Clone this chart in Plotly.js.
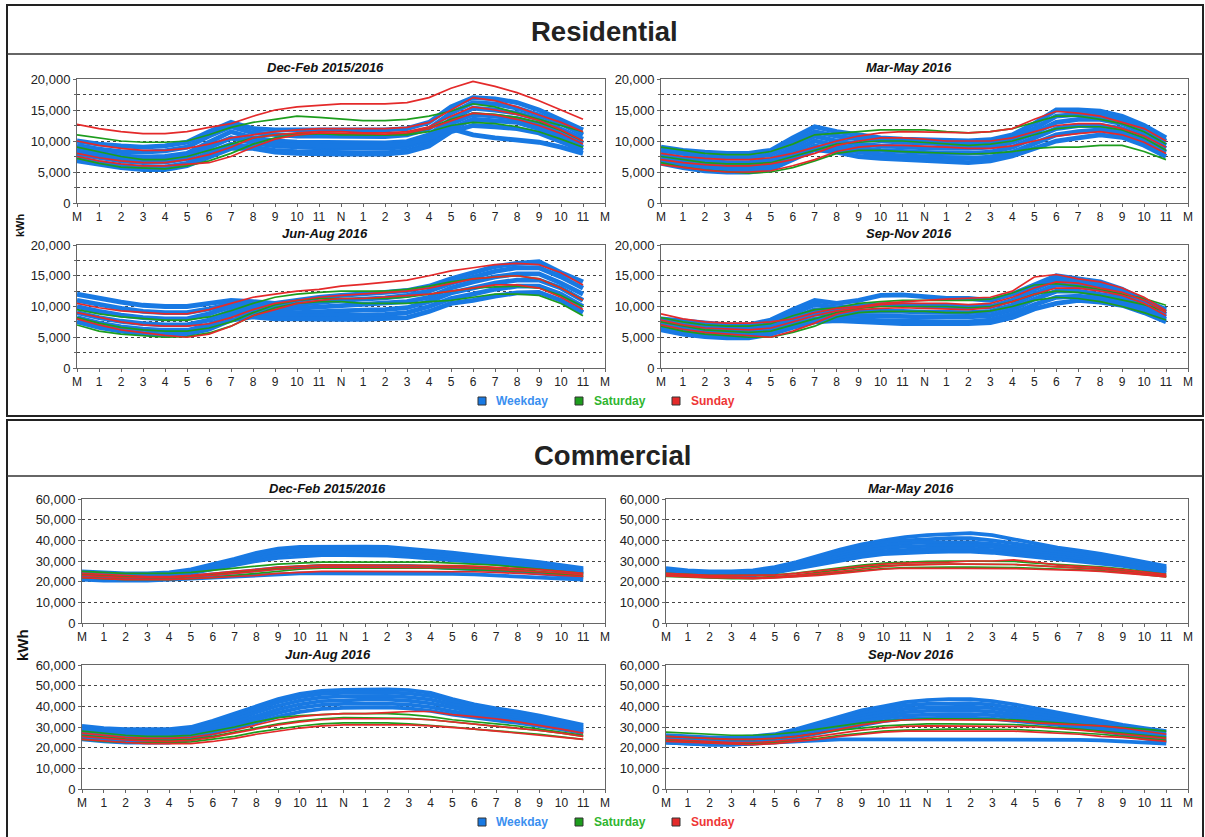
<!DOCTYPE html>
<html>
<head>
<meta charset="utf-8">
<script src="https://cdn.plot.ly/plotly-3.0.1.min.js"></script>
<style>html,body{margin:0;padding:0;background:#fff;}#chart{width:1205px;height:837px;}</style>
</head>
<body>
<div id="chart"></div>
<script>
// ---------- categories / ticks ----------
const hours = [0,1,2,3,4,5,6,7,8,9,10,11,12,13,14,15,16,17,18,19,20,21,22,23];
const tickPositions = [0,1,2,3,4,5,6,7,8,9,10,11,12,13,14,15,16,17,18,19,20,21,22,23,24];
const hourLabels = ['M','1','2','3','4','5','6','7','8','9','10','11','N','1','2','3','4','5','6','7','8','9','10','11','M'];
const seasonTitles = ['Dec-Feb 2015/2016','Mar-May 2016','Jun-Aug 2016','Sep-Nov 2016'];
const groupNames = ['Weekday','Saturday','Sunday'];

// ---------- Residential, Dec-Feb ----------
const resDecFebWeekday = [
 [10000,9500,9200,9000,9200,9800,11500,13000,12000,11800,11800,11800,11800,11800,11800,12000,13000,15500,17000,16800,16200,15000,13500,11800],
 [9300,8700,8300,8200,8400,9000,10800,12300,11300,11000,10800,10800,10800,10700,10700,11000,12000,14500,16200,16000,15300,14200,12800,11000],
 [8600,8000,7600,7400,7500,8000,9800,11500,10500,10000,9800,9800,9800,9700,9700,9900,11000,13500,15300,15000,14500,13500,12000,10300],
 [7900,7300,6800,6500,6600,7200,9000,10500,9700,9200,9000,8900,8900,8800,8800,9100,10200,12800,14300,14000,13600,12700,11200,9600],
 [7200,6500,6000,5700,5800,6400,8200,9500,9000,8500,8300,8200,8200,8100,8100,8400,9500,12000,13500,13300,13000,12000,10500,9000],
 [6800,6200,5700,5400,5400,6000,7500,8800,8800,8200,8000,7900,7900,7900,7900,8200,9200,11500,12500,12300,12000,11300,10000,8500],
 [8500,7800,7300,7000,7000,7500,9000,10500,10000,9500,9300,9200,9200,9200,9200,9500,10500,12000,11000,10500,10200,9800,9000,8000]
];
const resDecFebSaturday = [
 [11000,10500,10000,9800,9800,10000,11000,12200,13000,13500,14000,13800,13500,13300,13300,13500,14000,14800,16000,15500,14500,13500,12500,11500],
 [9000,8200,7500,7000,7000,7500,8500,9500,10500,11000,11200,11200,11000,11000,11000,11200,12000,13500,14500,14300,13800,13000,11700,10000],
 [7200,6400,5800,5600,5500,6000,6800,8000,9500,10500,11000,11200,11200,11000,11000,11000,11500,12500,13000,12800,12300,11500,10300,9000]
];
const resDecFebSunday = [
 [12700,12000,11500,11200,11200,11500,12200,12800,14000,15000,15500,15800,16000,16000,16000,16200,17000,18500,19600,18800,17800,16500,15000,13500],
 [10000,9300,8800,8500,8500,8800,9500,10500,11000,11500,11800,12000,12000,12000,12000,12200,13000,15000,17000,16500,15500,14200,13000,11500],
 [8000,7300,6800,6500,6500,7000,7800,9000,10500,11000,11300,11500,11500,11300,11300,11500,12300,14000,15500,15000,14300,13300,11800,10000],
 [7500,6800,6300,6000,6000,6300,6500,7500,9000,10300,11000,11300,11300,11200,11100,11300,12000,13300,14500,14200,13500,12500,11200,9500]
];

// ---------- Residential, Mar-May ----------
const resMarMayWeekday = [
 [9000,8500,8200,8000,8000,8500,10500,12300,11500,11000,10500,10300,10200,10000,10000,10200,11000,12800,15000,15000,14800,14000,12500,10500],
 [8500,8000,7500,7300,7300,7800,9800,11500,10800,10300,10000,9800,9700,9500,9500,9700,10500,12000,14000,14300,14200,13500,12000,10000],
 [7800,7200,6800,6500,6500,7000,9000,10800,10000,9500,9200,9000,8900,8800,8800,9000,9800,11300,13000,13500,13500,12800,11300,9300],
 [7200,6600,6200,5900,5900,6300,8300,10000,9300,8800,8500,8300,8200,8000,8000,8200,9000,10500,12000,12500,12500,12000,10600,8800],
 [6800,6100,5600,5300,5300,5700,7600,9200,8700,8200,7800,7600,7500,7300,7200,7400,8200,9600,11000,11500,11800,11300,10000,8200],
 [6400,5700,5200,5000,5000,5400,7000,8600,8200,7500,7200,7000,6900,6700,6500,6800,7600,8800,10000,10500,11000,10600,9300,7500]
];
const resMarMaySaturday = [
 [9000,8500,8000,7800,7800,8300,9500,11000,11200,11500,11800,11800,11800,11500,11300,11500,12000,13000,14000,14000,13500,12800,11500,9500],
 [7500,7000,6500,6300,6300,6500,7500,8500,9500,9800,10000,10000,9800,9500,9300,9500,10000,11000,12000,12300,12300,11800,10500,8500],
 [6500,5800,5300,5000,4800,5000,5700,6800,8000,8500,8500,8300,8200,8000,7900,8000,8300,8800,9000,9000,9300,9300,8300,7000]
];
const resMarMaySunday = [
 [8000,7500,7200,7000,7000,7300,8000,9000,10000,10800,11300,11500,11500,11400,11300,11500,12000,13500,14800,14500,14000,13000,12000,10000],
 [7000,6500,6200,6000,6000,6300,7000,8000,9300,10000,10500,10500,10300,10000,10000,10000,10500,11500,12500,12800,12800,12000,10800,9000],
 [6200,5700,5300,5000,5000,5200,6000,7000,8300,9000,9300,9300,9200,9000,8800,8800,9200,10000,10800,11200,11500,11000,9800,8000]
];

// ---------- Residential, Jun-Aug ----------
const resJunAugWeekday = [
 [12000,11300,10700,10200,10000,10000,10500,11000,10800,10500,11000,11500,11800,12000,12300,12600,13300,14500,15500,16500,17000,17300,15500,14000],
 [11000,10300,9700,9200,9000,9000,9600,10500,10300,10000,10300,10700,11000,11200,11400,11800,12500,13800,14800,15700,16300,16300,14800,13000],
 [10000,9200,8600,8200,8000,8000,8800,10000,9800,9500,9700,9900,10200,10300,10500,10800,11500,13000,14000,14800,15300,15300,13800,12000],
 [9000,8200,7600,7200,7000,7000,7800,9300,9300,9000,9000,9200,9300,9400,9500,9800,10800,12200,13000,13800,14300,14300,13000,11000],
 [8200,7300,6700,6300,6100,6100,7000,8600,8800,8500,8500,8500,8600,8600,8700,9000,10000,11300,12000,12800,13300,13300,12000,10000],
 [7500,6600,6000,5600,5400,5500,6300,7800,8300,8000,8000,7900,7900,7900,8000,8200,9200,10500,11000,11700,12200,12300,11000,9000]
];
const resJunAugSaturday = [
 [9500,8800,8300,8000,7800,7800,8300,9300,10500,11500,12000,12300,12500,12500,12500,12800,13300,14000,14500,14800,15000,14500,13000,11000],
 [8200,7300,6600,6200,6000,6000,6500,7500,9000,10300,11000,11300,11300,11300,11300,11500,12000,12500,13000,13200,13300,13000,11800,10000],
 [7000,6000,5500,5200,5000,5100,5700,6800,8500,9800,10500,10800,10800,10500,10500,10500,10800,11000,11500,12000,12000,11800,10500,8500]
];
const resJunAugSunday = [
 [10500,9800,9300,9000,8800,8800,9500,10500,11500,12000,12500,12800,13300,13600,14000,14300,15000,15800,16300,16800,17000,16800,15500,13500],
 [9000,8200,7500,7000,6800,6800,7200,8200,9500,10500,11000,11500,11800,12000,12200,12500,13000,13800,14500,14800,15000,14500,13000,11000],
 [8000,7000,6200,5700,5300,5000,5500,6800,8500,9500,10500,11000,11300,11300,11500,11800,12000,12500,13000,13500,13500,13000,11500,9500]
];

// ---------- Residential, Sep-Nov ----------
const resSepNovWeekday = [
 [8000,7700,7300,7000,7000,7800,9500,11000,10500,11000,11800,11900,11600,11300,11300,11000,12000,13500,15000,14500,14000,12800,11000,9500],
 [7600,7200,6800,6500,6500,7200,8800,10300,9800,10000,10300,10300,10100,10000,10000,10000,11000,12800,14300,14000,13500,12500,10700,9100],
 [7200,6700,6300,6000,6000,6700,8200,9500,9200,9200,9300,9200,9100,9000,9000,9200,10200,12000,13500,13300,12800,12000,10300,8700],
 [6800,6200,5800,5500,5500,6200,7600,8800,8600,8500,8500,8400,8300,8300,8300,8500,9500,11200,12500,12500,12000,11400,9900,8300],
 [6400,5800,5400,5100,5100,5800,7000,8000,8000,7800,7700,7600,7500,7500,7500,7800,8800,10300,11500,11700,11300,10800,9400,7900],
 [6200,5500,5100,4900,4900,5500,6600,7500,7700,7500,7300,7200,7200,7200,7200,7400,8200,9600,10500,11000,10700,10200,9000,7500]
];
const resSepNovSaturday = [
 [8200,7500,7000,6800,6800,7200,8500,9500,9800,10500,10800,11000,11000,11000,11000,11200,12200,13500,13700,13300,12800,12000,11300,10200],
 [7500,6800,6200,6000,5800,6000,7000,8000,9000,9700,10000,10000,10000,10000,9800,10000,10800,12000,12500,12300,11800,11000,10300,9200],
 [6800,6000,5500,5200,5000,5000,5800,6800,8300,9000,9200,9200,9200,9000,9000,9300,10000,11000,11500,11300,10800,10000,9000,7800]
];
const resSepNovSunday = [
 [8800,8000,7500,7300,7300,7500,8000,9000,9700,10000,10500,10800,11000,11200,11300,11500,12500,14800,15200,14500,14000,13000,11500,9300],
 [7800,7000,6500,6300,6200,6500,7500,8500,9300,9800,10300,10500,10500,10500,10300,10500,11500,13000,14000,13800,13000,12300,11000,9000],
 [7000,6300,5800,5500,5300,5000,6000,7300,8800,9500,9700,9800,9700,9600,9500,9800,10800,12000,13000,13000,12500,11800,10500,8500]
];

// ---------- Commercial, Dec-Feb ----------
const comDecFebWeekday = [
 [25000,24500,24000,24000,24500,26000,28500,31000,34000,36000,36800,37000,37000,37000,36800,36000,35000,34000,32800,31500,30500,29500,28000,26500],
 [24500,24000,23500,23500,24000,25500,28000,30500,33000,35000,35800,36000,36000,36000,35800,35000,34000,33000,32000,30800,29800,28800,27300,25800],
 [24000,23500,23000,23000,23500,25000,27300,29800,32000,34000,34800,35000,35000,35000,34800,34000,33200,32200,31200,30000,29000,28000,26600,25000],
 [23500,23000,22500,22500,23000,24500,26500,29000,31000,33000,33800,34000,34000,34000,33800,33200,32400,31400,30400,29300,28300,27300,25900,24300],
 [23000,22500,22000,22000,22500,24000,26000,28000,30000,31500,32300,32800,32800,32800,32600,32000,31300,30500,29600,28600,27600,26600,25200,23600],
 [22000,21500,21000,21000,21500,22500,23500,24500,25500,26500,27000,27500,27500,27500,27500,27500,27000,26500,26000,25500,25000,24000,23000,22000],
 [21000,20500,20500,20500,21000,21500,22000,22500,23000,23500,24000,24000,24000,24000,24000,24000,24000,23800,23500,23000,22500,22000,21500,21000]
];
const comDecFebSaturday = [
 [25000,24500,24000,24000,24000,24500,25500,26500,27500,28500,29000,29500,29500,29500,29500,29500,29500,29000,28500,28000,27000,26000,25000,24000],
 [23500,23000,22500,22000,22000,22500,23500,24500,25500,26500,27500,28000,28000,28000,28000,28000,27800,27500,27000,26500,26000,25000,24000,23000],
 [22000,21500,21000,21000,21000,21500,22000,23000,24000,25000,26000,26500,26500,26500,26500,26500,26500,26000,25800,25500,25000,24500,23500,22500]
];
const comDecFebSunday = [
 [24000,23500,23000,22500,22500,23000,24000,25000,26000,27000,27500,28000,28000,28000,28000,28000,28000,27800,27500,27000,26500,25800,25000,24000],
 [23000,22500,22000,22000,22000,22500,23000,24000,25000,26000,26500,27000,27000,27000,27000,27000,27000,26800,26500,26000,25500,25000,24200,23300],
 [22000,21500,21000,21000,21000,21500,22000,22500,23000,24000,24500,25000,25000,25000,25000,25000,25000,25000,24800,24500,24000,23500,23000,22500]
];

// ---------- Commercial, Mar-May ----------
const comMarMayWeekday = [
 [26500,25500,25000,25000,25500,27000,29500,32500,35500,38000,40000,41500,42500,43000,43500,42500,40500,38500,36500,35000,33500,31500,29500,27500],
 [26000,25000,24500,24500,25000,26500,29000,31800,34500,37000,39000,40000,40500,41000,41000,40000,38500,36800,35200,33800,32500,30800,28800,26800],
 [25500,24500,24000,24000,24500,26000,28300,31000,33500,35800,37500,38500,39000,39000,39000,38300,37000,35500,34000,32800,31500,30000,28000,26200],
 [25000,24000,23500,23500,24000,25500,27600,30000,32500,34500,36200,37000,37300,37500,37500,36800,35700,34300,33000,31800,30500,29200,27300,25600],
 [24500,23500,23000,23000,23500,25000,27000,29200,31500,33300,34800,35500,35800,36000,36000,35300,34300,33200,32000,30800,29600,28400,26600,25000],
 [24000,23000,22500,22500,23000,24400,26300,28300,30300,32000,33300,34000,34300,34500,34500,34000,33000,32000,31000,29800,28700,27600,25900,24300]
];
const comMarMaySaturday = [
 [24000,23500,23000,23000,23000,23300,24200,25500,26800,28000,29000,29500,29800,30000,30000,30000,29800,29000,28500,28000,27200,26200,24800,23500],
 [23000,22500,22200,22000,22000,22500,23200,24500,25800,27000,27800,28300,28500,28500,28500,28500,28300,27800,27300,26800,26200,25300,24000,22800],
 [22500,22000,21800,21500,21500,22000,22500,23500,24500,25500,26300,26800,27000,27000,27000,27000,26800,26500,26200,25800,25300,24500,23400,22300]
];
const comMarMaySunday = [
 [24000,23500,23000,23000,23000,23200,24000,25000,26300,27500,28500,29000,29200,29500,30000,30000,30500,29500,28000,27500,26800,25800,24600,23500],
 [23300,22800,22400,22200,22000,22200,23000,24000,25000,26200,27300,28000,28300,28500,28500,28500,28300,27800,27000,26500,26000,25000,23800,22800],
 [22800,22300,22000,21800,21500,21800,22300,23000,24000,25000,26000,26500,26500,26300,26300,26300,26300,26000,25800,25500,25000,24300,23300,22300]
];

// ---------- Commercial, Jun-Aug ----------
const comJunAugWeekday = [
 [30500,29500,29000,28800,29000,30000,33000,36500,40000,43500,46000,47500,48000,48200,48200,47800,46500,43500,41000,39000,37500,35500,33300,31000],
 [29000,28000,27500,27300,27500,28800,31800,35000,38500,42000,44500,46000,46500,46700,46700,46300,45000,42300,40000,38000,36500,34600,32500,30200],
 [27500,26500,26000,25800,26000,27500,30500,33500,37000,40300,42800,44300,44800,45000,45000,44500,43200,40800,38700,36800,35300,33600,31600,29400],
 [26000,25000,24500,24300,24500,26200,29200,32000,35300,38500,41000,42500,43000,43200,43200,42700,41400,39200,37300,35600,34200,32600,30700,28600],
 [25000,24000,23500,23300,23500,25000,28000,30700,33800,36800,39200,40700,41200,41300,41300,40800,39600,37600,35900,34400,33100,31600,29800,27800],
 [24000,23000,22500,22300,22500,24000,26800,29300,32300,35000,37300,38800,39300,39500,39500,39000,37800,36000,34500,33200,32000,30600,28900,27000]
];
const comJunAugSaturday = [
 [28000,27000,26000,25500,25500,26000,28000,30000,32500,34500,35500,36000,36500,36500,36500,36000,35000,33500,32500,31500,30500,29000,27500,26000],
 [26000,25000,24200,23800,23500,24000,25500,27500,29500,31500,33000,34000,34500,34500,34500,34200,33500,32500,31500,30500,29500,28300,27000,25500],
 [24000,23000,22500,22300,22300,22800,24000,25500,27500,29000,30500,31500,32000,32000,32000,31500,30800,30000,29000,28000,27300,26500,25300,24000]
];
const comJunAugSunday = [
 [27000,26000,25000,24500,24500,25000,26500,28500,31000,33500,35000,36000,36500,36500,37000,37500,37500,36000,35000,34000,32500,30800,29000,27000],
 [25500,24500,23800,23300,23000,23500,25000,27000,29000,31000,32500,33500,34000,34000,34000,34000,33500,32500,31500,30500,29500,28300,27000,25500],
 [24000,23200,22500,22000,22000,22000,23000,24500,26500,28000,29500,30500,31000,31000,31000,31000,30500,29800,29000,28000,27000,26000,25000,24000]
];

// ---------- Commercial, Sep-Nov ----------
const comSepNovWeekday = [
 [26000,25500,25000,25000,25500,26500,29000,32000,35000,38000,40000,42000,43000,43500,43500,42500,41000,39000,37000,35000,33000,31000,29500,28000],
 [25300,24800,24300,24300,24800,25800,28200,31000,33800,36600,38600,40400,41200,41600,41600,40800,39400,37600,35800,34000,32000,30100,28500,27000],
 [24600,24100,23600,23600,24100,25100,27400,30000,32700,35300,37200,38800,39500,39800,39800,39100,37800,36200,34600,32900,31000,29200,27500,26000],
 [23900,23400,22900,22900,23400,24400,26600,29000,31500,34000,35800,37200,37800,38000,38000,37400,36200,34800,33400,31800,30000,28300,26500,25000],
 [23200,22700,22200,22200,22700,23700,25800,28000,30300,32700,34400,35600,36100,36200,36200,35700,34600,33400,32200,30700,29000,27400,25500,23500],
 [22500,22000,21500,21500,22000,23000,25000,27000,29000,31200,32800,34000,34400,34500,34500,34000,33000,32000,31000,29500,28000,26500,24500,22500],
 [22500,22000,21500,21500,22000,22500,23000,23500,24000,24000,24000,24000,24000,24200,24200,24200,24200,24000,24000,23800,23500,23000,22500,22000]
];
const comSepNovSaturday = [
 [27500,27000,26500,26000,26000,26500,27500,29000,30500,32000,33000,33500,34000,34000,34000,33800,33500,32800,32000,31200,30500,29800,29000,28000],
 [25500,25000,24500,24000,24000,24500,25500,27000,28500,29500,30500,31000,31500,31500,31500,31500,31200,30500,29800,29000,28000,27000,26000,25000],
 [23500,23000,22500,22000,22000,22500,23500,24500,26000,27000,28000,28500,28800,29000,29000,29000,28800,28300,27800,27200,26500,25500,24500,23500]
];
const comSepNovSunday = [
 [25500,25000,24500,24000,24000,24500,25500,27000,29000,31000,32500,33500,33500,33500,33500,33300,33000,32000,31500,31000,30500,29500,28000,26500],
 [24000,23500,23000,22500,22500,23000,24000,25500,27000,28500,29500,30300,30500,30500,30500,30500,30300,30000,29300,28500,27500,26500,25500,24500],
 [23000,22500,22000,21800,21500,22000,23000,24000,25500,26500,27500,28000,28000,28000,28000,28000,28000,27500,27000,26500,25500,25000,24000,23000]
];

// ---------- build ----------
const W = 1205, H = 837;
const fx = p => p / W;
const fy = p => 1 - p / H;
const FONT = 'Liberation Sans, Arial, Helvetica, sans-serif';
const BLUE = '#1879e3', GREEN = '#1d9d1d', RED = '#e42a2a';

const panels = [
  {wk: resDecFebWeekday, sa: resDecFebSaturday, su: resDecFebSunday, x:[77,605], y:[79,203], kind:'res', title: seasonTitles[0]},
  {wk: resMarMayWeekday, sa: resMarMaySaturday, su: resMarMaySunday, x:[661,1188], y:[79,203], kind:'res', title: seasonTitles[1]},
  {wk: resJunAugWeekday, sa: resJunAugSaturday, su: resJunAugSunday, x:[77,605], y:[245,368], kind:'res', title: seasonTitles[2]},
  {wk: resSepNovWeekday, sa: resSepNovSaturday, su: resSepNovSunday, x:[661,1188], y:[245,368], kind:'res', title: seasonTitles[3]},
  {wk: comDecFebWeekday, sa: comDecFebSaturday, su: comDecFebSunday, x:[82,605], y:[499,623], kind:'com', title: seasonTitles[0]},
  {wk: comMarMayWeekday, sa: comMarMaySaturday, su: comMarMaySunday, x:[666,1188], y:[499,623], kind:'com', title: seasonTitles[1]},
  {wk: comJunAugWeekday, sa: comJunAugSaturday, su: comJunAugSunday, x:[82,605], y:[665,789], kind:'com', title: seasonTitles[2]},
  {wk: comSepNovWeekday, sa: comSepNovSaturday, su: comSepNovSunday, x:[666,1188], y:[665,789], kind:'com', title: seasonTitles[3]}
];

const traces = [];
const layout = {
  width: W, height: H,
  margin: {l:0, r:0, t:0, b:0},
  paper_bgcolor: '#fff', plot_bgcolor: '#fff',
  showlegend: false,
  font: {family: FONT, color: '#222'},
  annotations: [], shapes: []
};

panels.forEach((p, i) => {
  const n = i + 1;
  const xa = n === 1 ? 'x' : 'x' + n;
  const ya = n === 1 ? 'y' : 'y' + n;
  const bw = p.kind === 'res' ? 4.8 : 3.8;
  const add = (lines, color, width, name) => lines.forEach(v => traces.push({
    type: 'scatter', mode: 'lines', x: hours, y: v, xaxis: xa, yaxis: ya,
    name: name, line: {color: color, width: width}, hoverinfo: 'skip', showlegend: false
  }));
  add(p.wk, BLUE, bw, groupNames[0]);
  add(p.sa, GREEN, 1.7, groupNames[1]);
  add(p.su, RED, 1.7, groupNames[2]);

  layout['xaxis' + (n === 1 ? '' : n)] = {
    domain: [fx(p.x[0]), fx(p.x[1])], anchor: ya,
    range: [0, 24], tickvals: tickPositions, ticktext: hourLabels,
    showline: true, mirror: true, linecolor: '#666', linewidth: 1,
    ticks: 'outside', ticklen: 3, tickcolor: '#666',
    showgrid: false, zeroline: false,
    tickfont: {family: FONT, size: 12, color: '#222'}, fixedrange: true
  };
  const ycfg = {
    domain: [fy(p.y[1]), fy(p.y[0])], anchor: xa,
    showline: true, mirror: true, linecolor: '#666', linewidth: 1,
    ticks: 'outside', ticklen: 3, tickcolor: '#666',
    showgrid: true, gridcolor: '#444', griddash: 'dot', gridwidth: 1,
    zeroline: false, tickformat: ',d', separatethousands: true,
    tickfont: {family: FONT, size: 13, color: '#222'}, fixedrange: true
  };
  if (p.kind === 'res') {
    ycfg.range = [0, 20000]; ycfg.dtick = 5000; ycfg.tick0 = 0;
    ycfg.minor = {dtick: 2500, showgrid: true, gridcolor: '#444', griddash: 'dot', gridwidth: 1, ticks: 'outside', ticklen: 2, tickcolor: '#666'};
  } else {
    ycfg.range = [0, 60000]; ycfg.dtick = 10000; ycfg.tick0 = 0;
  }
  layout['yaxis' + (n === 1 ? '' : n)] = ycfg;

  layout.annotations.push({
    xref: 'paper', yref: 'paper', x: fx((p.x[0] + p.x[1]) / 2 - 16), y: fy(p.y[0] - 11),
    text: '<b><i>' + p.title + '</i></b>', showarrow: false,
    font: {family: FONT, size: 13, color: '#111'}, xanchor: 'center', yanchor: 'middle'
  });
});

// section frames and titles
const frame = (x0, y0, x1, y1, w) => ({type:'rect', xref:'paper', yref:'paper', x0:fx(x0), x1:fx(x1), y0:fy(y1), y1:fy(y0), line:{color:'#222', width:w}, fillcolor:'rgba(0,0,0,0)', layer:'below'});
const hline = (x0, x1, y, w) => ({type:'line', xref:'paper', yref:'paper', x0:fx(x0), x1:fx(x1), y0:fy(y), y1:fy(y), line:{color:'#333', width:w}});
layout.shapes.push(frame(7, 5, 1203, 416, 2));
layout.shapes.push(hline(7, 1203, 54, 1.5));
layout.shapes.push(frame(7, 420, 1203, 845, 2));
layout.shapes.push(hline(7, 1203, 476, 1.5));

const bigTitle = (text, x, y) => ({xref:'paper', yref:'paper', x:fx(x), y:fy(y), text:'<b>'+text+'</b>', showarrow:false, font:{family:FONT, size:27.5, color:'#222'}, xanchor:'center', yanchor:'middle'});
layout.annotations.push(bigTitle('Residential', 604, 32));
layout.annotations.push(bigTitle('Commercial', 612, 455));

// kWh axis labels
layout.annotations.push({xref:'paper', yref:'paper', x:fx(20), y:fy(225), text:'<b>kWh</b>', showarrow:false, textangle:-90, font:{family:FONT, size:11, color:'#111'}, xanchor:'center', yanchor:'middle'});
layout.annotations.push({xref:'paper', yref:'paper', x:fx(22), y:fy(645), text:'<b>kWh</b>', showarrow:false, textangle:-90, font:{family:FONT, size:15, color:'#111'}, xanchor:'center', yanchor:'middle'});

// legends
const legendColors = [BLUE, GREEN, RED];
const legendTextColors = ['#3a8ff0', '#2fb52f', '#ee3636'];
const squareX = [482, 579, 676];
const textX = [494, 592, 689];
[401, 822].forEach(ly => {
  groupNames.forEach((g, k) => {
    layout.shapes.push({type:'rect', xref:'paper', yref:'paper', x0:fx(squareX[k]-4), x1:fx(squareX[k]+4), y0:fy(ly+4), y1:fy(ly-4), fillcolor:legendColors[k], line:{color:'#333', width:1}});
    layout.annotations.push({xref:'paper', yref:'paper', x:fx(textX[k]), y:fy(ly), text:'<b>'+g+'</b>', showarrow:false, xanchor:'left', yanchor:'middle', font:{family:FONT, size:12, color:legendTextColors[k]}});
  });
});

Plotly.newPlot('chart', traces, layout, {displayModeBar:false, staticPlot:true});
</script>
</body>
</html>
